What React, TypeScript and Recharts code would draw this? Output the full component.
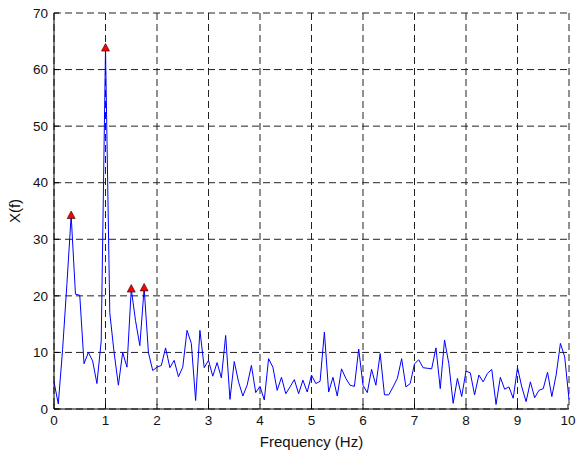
import React from 'react';
import { LineChart, Line, XAxis, YAxis, CartesianGrid } from 'recharts';

// spectrum magnitude, one sample every 1/12 Hz from 0 to 10 Hz
const magnitude = [
  4.8, 0.9, 10.5, 22, 34.2, 20.3, 20.1, 8.0, 10.0, 8.5,
  4.5, 12, 63.8, 17, 10, 4.2, 10, 7.4, 21.2, 15.6,
  11.2, 21.4, 10, 6.8, 7.4, 7.7, 10.8, 7.3, 8.6, 5.7,
  7.4, 13.9, 11.6, 1.5, 13.9, 7.3, 8.6, 5.8, 8.2, 5.5,
  13.0, 1.7, 8.4, 4.8, 2.3, 4.2, 7.7, 2.9, 4.0, 1.6,
  8.9, 7.4, 3.3, 5.6, 2.7, 3.9, 5.2, 2.7, 5.1, 3.0,
  6.0, 4.5, 4.9, 13.6, 3.0, 5.6, 2.3, 7.1, 5.4, 4.2,
  4.0, 10.6, 4.2, 2.9, 7.0, 4.2, 9.8, 2.5, 2.5, 3.9,
  5.4, 8.9, 3.9, 4.5, 8.0, 8.7, 7.3, 7.2, 7.1, 10.8,
  3.6, 12.2, 8.0, 1.0, 5.4, 2.2, 6.7, 6.4, 2.5, 6.0,
  4.8, 6.3, 7.0, 0.8, 5.6, 3.5, 3.9, 1.9, 7.3, 3.9,
  1.3, 4.8, 2.0, 3.3, 3.6, 6.5, 2.2, 6.0, 11.6, 9.2,
  1.7,
];
const freqStep = 1 / 12;
const peakIdx = [4, 12, 18, 21];
const xTicks = [0, 1, 2, 3, 4, 5, 6, 7, 8, 9, 10];
const yTicks = [0, 10, 20, 30, 40, 50, 60, 70];

const data = magnitude.map((v, i) => ({ f: i * freqStep, x: v }));

const FONT = '"Liberation Sans", Arial, sans-serif';
const TICK_FS = 13.5;
const LABEL_FS = 15;
const TICK_LEN = 5;
const MARGIN = 6;

const XTick = ({ x, y, payload }: any) => (
  <g>
    <line x1={x} x2={x} y1={y - MARGIN} y2={y - MARGIN - TICK_LEN} stroke="#000" />
    <text x={x} y={y} dy="0.72em" textAnchor="middle" fontSize={TICK_FS} fontFamily={FONT} fill="#111">
      {payload.value}
    </text>
  </g>
);

const YTick = ({ x, y, payload }: any) => (
  <g>
    <line x1={x + MARGIN} x2={x + MARGIN + TICK_LEN} y1={y} y2={y} stroke="#000" />
    <text x={x} y={y} dy="0.35em" textAnchor="end" fontSize={TICK_FS} fontFamily={FONT} fill="#111">
      {payload.value}
    </text>
  </g>
);

// inner ticks on the top and right edges of the box
const TopTick = ({ x, y }: any) => <line x1={x} x2={x} y1={y} y2={y + TICK_LEN} stroke="#000" />;
const RightTick = ({ x, y }: any) => <line x1={x} x2={x - TICK_LEN} y1={y} y2={y} stroke="#000" />;

const PeakDot = (props: any) => {
  const { cx, cy, index } = props;
  if (!peakIdx.includes(index)) return <g key={`d-${index}`} />;
  return (
    <path
      key={`d-${index}`}
      d={`M${cx},${cy - 4.5} L${cx + 4},${cy + 3} L${cx - 4},${cy + 3} Z`}
      fill="#ff0000"
      stroke="#200000"
      strokeWidth={0.6}
    />
  );
};

const YLabel = ({ viewBox }: any) => {
  const cx = viewBox.x + 15;
  const cy = viewBox.y + viewBox.height / 2;
  return (
    <text x={cx} y={cy} transform={`rotate(-90, ${cx}, ${cy})`} textAnchor="middle" dy="0.35em"
      fontSize={LABEL_FS} fontFamily={FONT} fill="#111">
      X(f)
    </text>
  );
};

export default function App() {
  return (
    <div style={{ position: 'absolute', left: 0, top: 0, background: '#fff' }}>
      <LineChart width={576} height={453} data={data} margin={{ top: 13, right: 7, bottom: 0, left: 0 }}>
        <CartesianGrid stroke="#222" strokeDasharray="7 4" />
        <XAxis
          dataKey="f"
          type="number"
          domain={[0, 10]}
          ticks={xTicks}
          height={44}
          tickSize={0}
          tickMargin={MARGIN}
          tick={<XTick />}
          axisLine={{ stroke: '#000' }}
          label={{ value: 'Frequency (Hz)', position: 'insideBottom', offset: 6, fontSize: LABEL_FS, fontFamily: FONT, fill: '#111' }}
        />
        <XAxis
          xAxisId="top"
          orientation="top"
          dataKey="f"
          type="number"
          domain={[0, 10]}
          ticks={xTicks}
          height={0}
          tickSize={0}
          tickMargin={0}
          tick={<TopTick />}
          axisLine={{ stroke: '#000' }}
        />
        <YAxis
          type="number"
          domain={[0, 70]}
          ticks={yTicks}
          width={54}
          tickSize={0}
          tickMargin={MARGIN}
          tick={<YTick />}
          axisLine={{ stroke: '#000' }}
          label={<YLabel />}
        />
        <YAxis
          yAxisId="right"
          orientation="right"
          type="number"
          domain={[0, 70]}
          ticks={yTicks}
          width={0}
          tickSize={0}
          tickMargin={0}
          tick={<RightTick />}
          axisLine={{ stroke: '#000' }}
        />
        <Line
          dataKey="x"
          stroke="#0000ff"
          strokeWidth={1}
          dot={PeakDot}
          activeDot={false}
          isAnimationActive={false}
        />
      </LineChart>
    </div>
  );
}
